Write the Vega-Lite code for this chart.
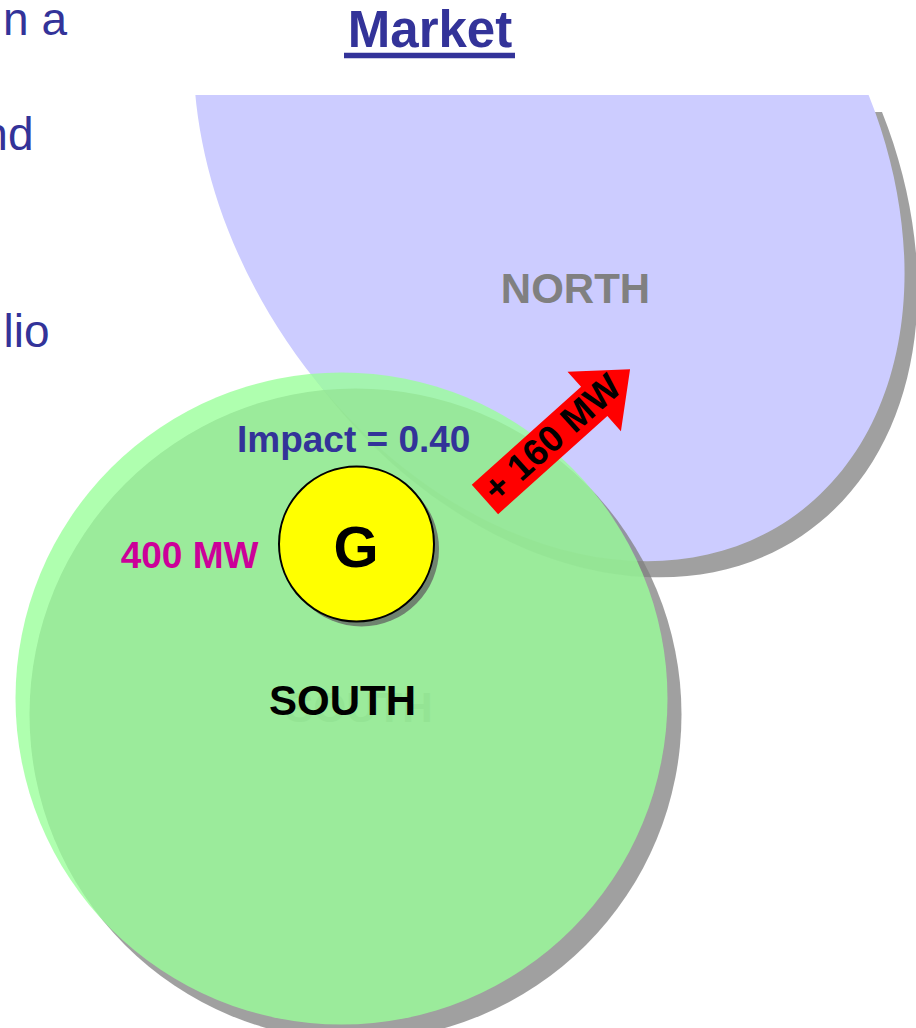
{
  "$schema": "https://vega.github.io/schema/vega-lite/v6.json",
  "width": 916,
  "height": 1028,
  "autosize": {"type": "none"},
  "padding": 0,
  "background": "white",
  "config": {"view": {"stroke": null}, "text": {"font": "Liberation Sans"}},
  "datasets": {
    "north": [{"region": "NORTH", "x": 549, "y": 164, "diameter": 858}],
    "south": [{"region": "SOUTH", "x": 341.5, "y": 698.5, "diameter": 652}],
    "generator": [{"name": "G", "x": 356.5, "y": 544, "diameter": 155}],
    "flow": [{"from": "SOUTH", "to": "NORTH", "x": 557.5, "y": 434.4, "length": 195}],
    "slideTop": [{"x": 0, "x2": 916, "y": 0, "y2": 95}]
  },
  "encoding": {
    "x": {"field": "x", "type": "quantitative", "scale": {"domain": [0, 916], "nice": false, "zero": false}, "axis": null},
    "y": {"field": "y", "type": "quantitative", "scale": {"domain": [0, 1028], "nice": false, "zero": false, "reverse": true}, "axis": null}
  },
  "layer": [
    {
      "data": {"name": "north"},
      "mark": {"type": "point", "shape": "M1,0C1,0.4075 0.5523,0.7378 0,0.7378C-0.5523,0.7378 -1,0.4075 -1,0C-1,-0.4075 -0.5523,-0.7378 0,-0.7378C0.5523,-0.7378 1,-0.4075 1,0Z", "angle": 56, "filled": true, "color": "#808080", "opacity": 0.75, "strokeWidth": 0, "xOffset": 13, "yOffset": 16},
      "encoding": {"size": {"field": "diameter", "type": "quantitative", "scale": {"type": "pow", "exponent": 2, "domain": [0, 1000], "range": [0, 1000000], "nice": false, "zero": true}, "legend": null}}
    },
    {
      "data": {"name": "slideTop"},
      "mark": {"type": "rect", "color": "white", "y2Offset": 17, "opacity": 1},
      "encoding": {"x2": {"field": "x2"}, "y2": {"field": "y2"}}
    },
    {
      "data": {"name": "north"},
      "mark": {"type": "point", "shape": "M1,0C1,0.4075 0.5523,0.7378 0,0.7378C-0.5523,0.7378 -1,0.4075 -1,0C-1,-0.4075 -0.5523,-0.7378 0,-0.7378C0.5523,-0.7378 1,-0.4075 1,0Z", "angle": 56, "filled": true, "color": "#CCCCFF", "opacity": 1, "strokeWidth": 0},
      "encoding": {"size": {"field": "diameter", "type": "quantitative", "legend": null}}
    },
    {
      "data": {"name": "slideTop"},
      "mark": {"type": "rect", "color": "white", "opacity": 1},
      "encoding": {"x2": {"field": "x2"}, "y2": {"field": "y2"}}
    },
    {
      "data": {"values": [{"text": "NORTH", "x": 575.5, "y": 303}]},
      "mark": {"type": "text", "fontSize": 42, "fontWeight": "bold", "color": "#808080", "align": "center", "baseline": "alphabetic"},
      "encoding": {"text": {"field": "text"}}
    },
    {
      "data": {"name": "south"},
      "mark": {"type": "point", "shape": "circle", "filled": true, "color": "#808080", "opacity": 0.75, "strokeWidth": 0, "xOffset": 14, "yOffset": 16},
      "encoding": {"size": {"field": "diameter", "type": "quantitative", "legend": null}}
    },
    {
      "data": {"values": [{"text": "SOUTH", "x": 359, "y": 722}]},
      "mark": {"type": "text", "fontSize": 42, "fontWeight": "bold", "color": "#808080", "align": "center", "baseline": "alphabetic"},
      "encoding": {"text": {"field": "text"}}
    },
    {
      "data": {"name": "south"},
      "mark": {"type": "point", "shape": "circle", "filled": true, "color": "#99FF99", "opacity": 0.784, "strokeWidth": 0},
      "encoding": {"size": {"field": "diameter", "type": "quantitative", "legend": null}}
    },
    {
      "data": {"name": "generator"},
      "mark": {"type": "point", "shape": "circle", "filled": true, "color": "#606060", "opacity": 0.75, "strokeWidth": 0, "xOffset": 5, "yOffset": 5},
      "encoding": {"size": {"field": "diameter", "type": "quantitative", "legend": null}}
    },
    {
      "data": {"name": "generator"},
      "mark": {"type": "point", "shape": "circle", "filled": true, "fill": "#FFFF00", "stroke": "black", "strokeWidth": 2, "opacity": 1},
      "encoding": {"size": {"field": "diameter", "type": "quantitative", "legend": null}}
    },
    {
      "data": {"values": [{"text": "G", "x": 356, "y": 567}]},
      "mark": {"type": "text", "fontSize": 58, "fontWeight": "bold", "color": "black", "align": "center", "baseline": "alphabetic"},
      "encoding": {"text": {"field": "text"}}
    },
    {
      "data": {"values": [{"text": "Impact = 0.40", "x": 353.7, "y": 451.7}]},
      "mark": {"type": "text", "fontSize": 37, "fontWeight": "bold", "color": "#333399", "align": "center", "baseline": "alphabetic"},
      "encoding": {"text": {"field": "text"}}
    },
    {
      "data": {"values": [{"text": "400 MW", "x": 189.5, "y": 568.3}]},
      "mark": {"type": "text", "fontSize": 37, "fontWeight": "bold", "color": "#CC0099", "align": "center", "baseline": "alphabetic"},
      "encoding": {"text": {"field": "text"}}
    },
    {
      "data": {"values": [{"text": "SOUTH", "x": 342.5, "y": 715}]},
      "mark": {"type": "text", "fontSize": 42, "fontWeight": "bold", "color": "black", "align": "center", "baseline": "alphabetic"},
      "encoding": {"text": {"field": "text"}}
    },
    {
      "data": {"name": "flow"},
      "mark": {"type": "point", "shape": "M-1,-0.202L0.506,-0.202L0.506,-0.41L1,0L0.506,0.41L0.506,0.202L-1,0.202Z", "angle": -41.9, "filled": true, "color": "#FF0000", "opacity": 1, "strokeWidth": 0},
      "encoding": {"size": {"field": "length", "type": "quantitative", "legend": null}}
    },
    {
      "data": {"values": [{"text": "+ 160 MW", "x": 553, "y": 439}]},
      "mark": {"type": "text", "fontSize": 37, "fontWeight": "bold", "color": "black", "align": "center", "baseline": "middle", "angle": -41.9},
      "encoding": {"text": {"field": "text"}}
    },
    {
      "data": {"values": [{"text": "Market", "x": 430, "y": 46.7}]},
      "mark": {"type": "text", "fontSize": 51, "fontWeight": "bold", "color": "#333399", "align": "center", "baseline": "alphabetic"},
      "encoding": {"text": {"field": "text"}}
    },
    {
      "data": {"values": [{"x": 344, "x2": 515, "y": 55.5}]},
      "mark": {"type": "rule", "color": "#333399", "strokeWidth": 5.5},
      "encoding": {"x2": {"field": "x2"}}
    },
    {
      "data": {"values": [{"text": "n a", "x": 67, "y": 35}, {"text": "nd", "x": 33.5, "y": 150}, {"text": "lio", "x": 49.5, "y": 347}]},
      "mark": {"type": "text", "fontSize": 46, "color": "#333399", "align": "right", "baseline": "alphabetic"},
      "encoding": {"text": {"field": "text"}}
    }
  ]
}
